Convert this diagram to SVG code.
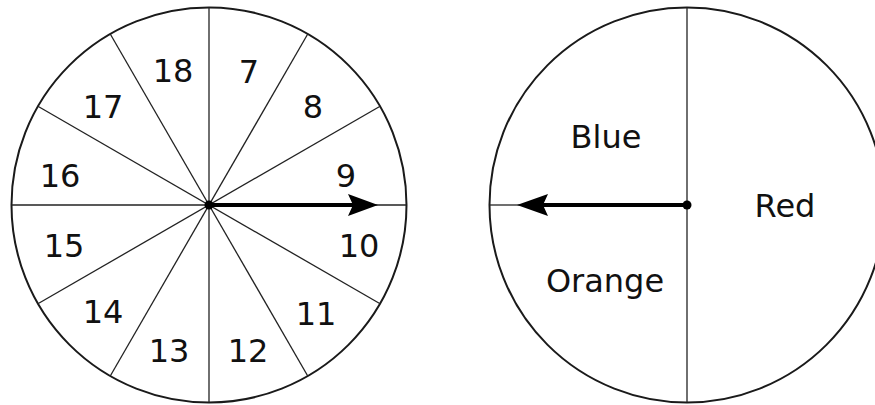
<svg xmlns="http://www.w3.org/2000/svg" width="875" height="405" viewBox="0 0 875 405">
  <style>
    .rim { fill: #fff; stroke: #1a1a1a; stroke-width: 2; }
    .div { stroke: #222; stroke-width: 1.3; fill: none; }
    .ptr { stroke: #000; stroke-width: 4; fill: none; }
    .lbl { font-family: "DejaVu Sans", Verdana, sans-serif; font-size: 32px; fill: #111; text-anchor: middle; }
  </style>

  <!-- numbered spinner: 12 sectors of 30 degrees -->
  <g id="spinner-numbers">
    <circle class="rim" cx="209" cy="205" r="197.5"/>
    <g class="div">
      <line x1="11.5" y1="205" x2="406.5" y2="205"/>
      <line x1="209" y1="7.5" x2="209" y2="402.5"/>
      <line x1="37.9" y1="106.25" x2="380.1" y2="303.75"/>
      <line x1="37.9" y1="303.75" x2="380.1" y2="106.25"/>
      <line x1="110.25" y1="34" x2="307.75" y2="376"/>
      <line x1="110.25" y1="376" x2="307.75" y2="34"/>
    </g>
    <g class="lbl">
      <text x="173" y="82">18</text>
      <text x="249" y="83">7</text>
      <text x="313" y="118">8</text>
      <text x="103" y="118">17</text>
      <text x="60" y="187">16</text>
      <text x="346" y="187">9</text>
      <text x="64" y="257">15</text>
      <text x="359" y="257">10</text>
      <text x="103" y="323">14</text>
      <text x="316" y="325">11</text>
      <text x="169" y="362">13</text>
      <text x="248" y="362">12</text>
    </g>
    <!-- pointer to the right -->
    <line class="ptr" x1="209" y1="205" x2="355" y2="205"/>
    <polygon points="378,205 348,194 353,205 348,216" fill="#000"/>
    <circle cx="209" cy="205" r="4.5" fill="#000"/>
  </g>

  <!-- colour spinner: half red, quarter blue, quarter orange -->
  <g id="spinner-colours">
    <circle class="rim" cx="687" cy="205" r="197.5"/>
    <g class="div">
      <line x1="687" y1="7.5" x2="687" y2="402.5"/>
      <line x1="489.5" y1="205" x2="520" y2="205"/>
    </g>
    <g class="lbl">
      <text x="606" y="148">Blue</text>
      <text x="785" y="217">Red</text>
      <text x="605" y="292">Orange</text>
    </g>
    <!-- pointer to the left -->
    <line class="ptr" x1="687" y1="205" x2="540" y2="205"/>
    <polygon points="517,205 548,194 543,205 548,216" fill="#000"/>
    <circle cx="687" cy="205" r="4.5" fill="#000"/>
  </g>
</svg>
